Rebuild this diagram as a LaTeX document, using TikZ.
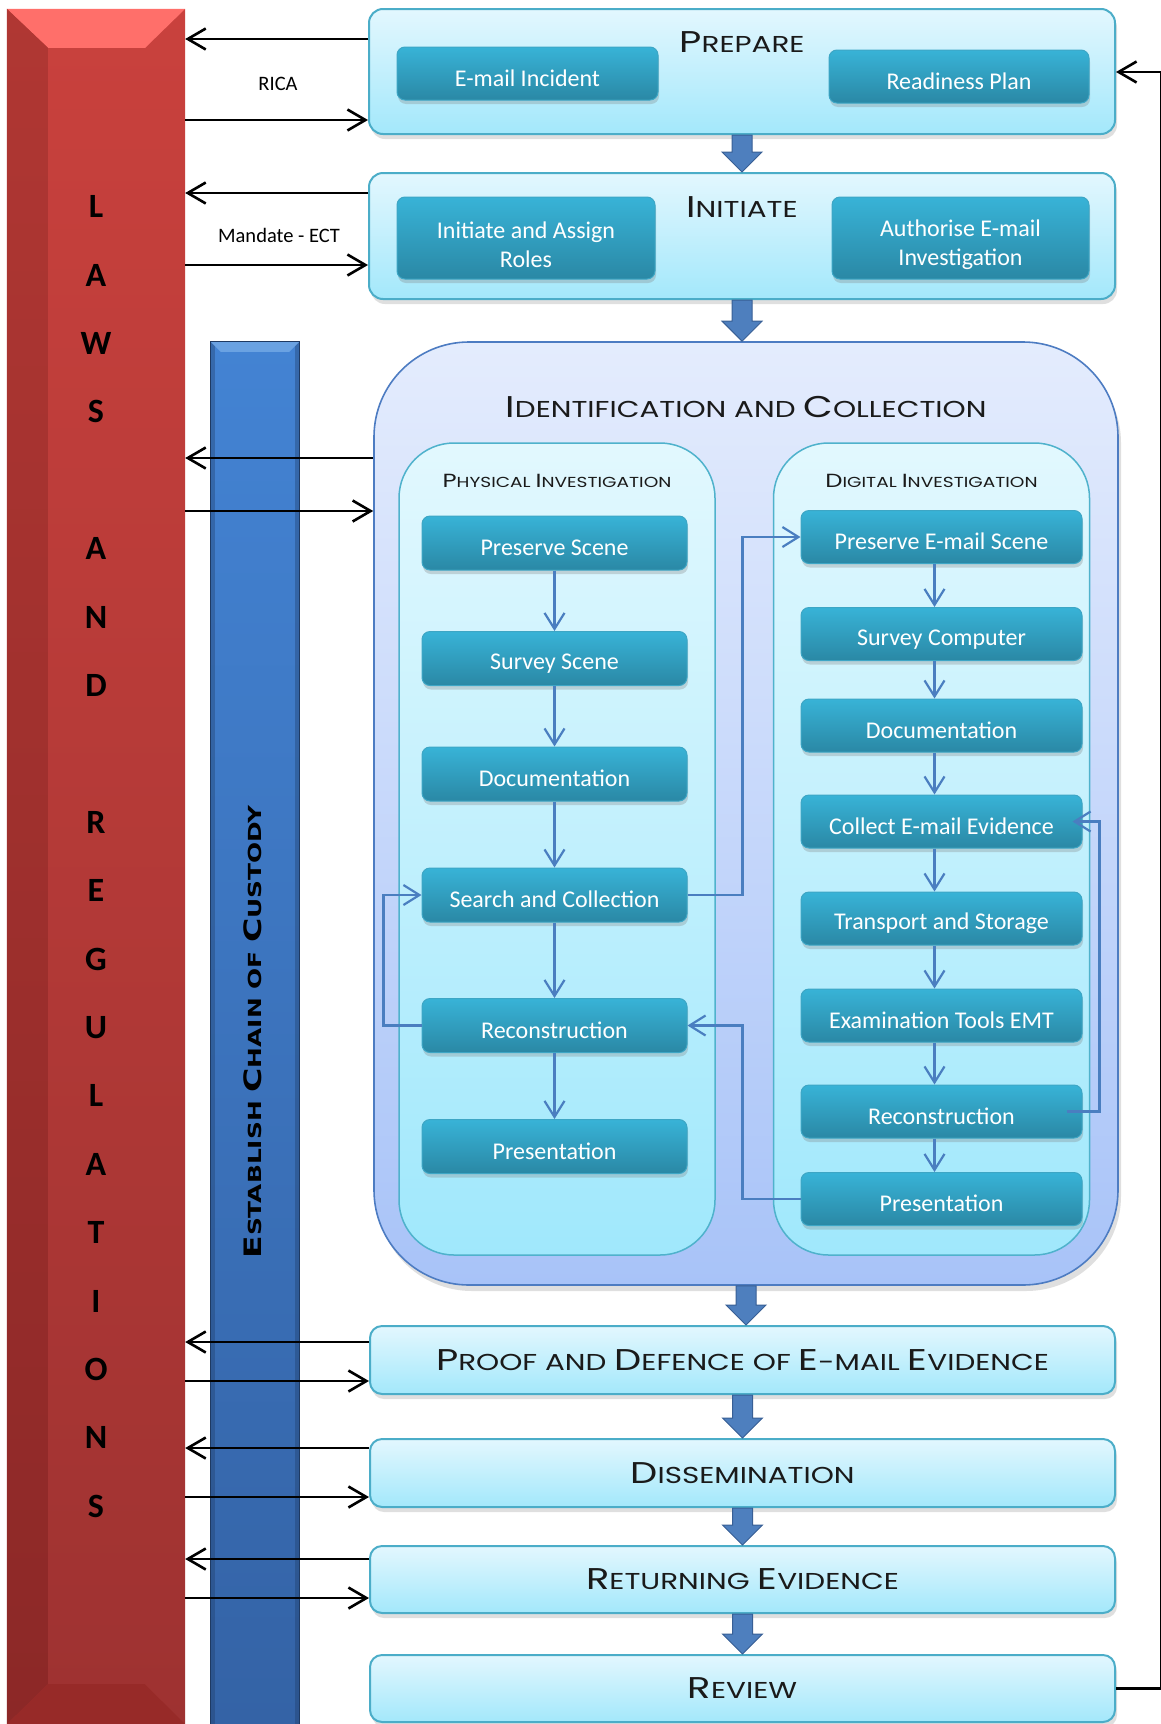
\documentclass[tikz,border=0pt]{standalone}
\usepackage{fontspec}
\setmainfont{Carlito}
\newfontfamily\titlefont[FakeStretch=1.28]{Poppins}
\newfontfamily\chainfont[FakeStretch=1.38]{DejaVu Sans}
\usetikzlibrary{arrows.meta,shadows,calc}

% colours
\definecolor{lawtop}{HTML}{C9413D}
\definecolor{lawbot}{HTML}{9E3231}
\definecolor{lawlight}{HTML}{FF6F6A}
\definecolor{lawdarktop}{HTML}{B03733}
\definecolor{lawdarkbot}{HTML}{8C2827}
\definecolor{lawbevel}{HTML}{972A28}
\definecolor{chaintop}{HTML}{4383D3}
\definecolor{chainbot}{HTML}{3463A6}
\definecolor{chainedge}{HTML}{1E3A63}
\definecolor{chainbevel}{HTML}{6AA2E2}
\definecolor{stagetop}{HTML}{E3F7FE}
\definecolor{stagebot}{HTML}{A3E8FB}
\definecolor{stageline}{HTML}{4BADC8}
\definecolor{btntop}{HTML}{38B3D7}
\definecolor{btnbot}{HTML}{2A88A5}
\definecolor{btnline}{HTML}{3DA6C5}
\definecolor{identtop}{HTML}{E4ECFD}
\definecolor{identbot}{HTML}{A8C3F8}
\definecolor{identline}{HTML}{4D7CC2}
\definecolor{innertop}{HTML}{E2F8FE}
\definecolor{innerbot}{HTML}{A0E8FC}
\definecolor{innerline}{HTML}{4FB2CC}
\definecolor{flowcol}{HTML}{4A7EC0}
\definecolor{blockfill}{HTML}{4E7FBE}
\definecolor{blockline}{HTML}{385F95}
\definecolor{titlecol}{HTML}{1A1A1A}

% fake small capitals: big initial, smaller capitals
\newcommand\capsA[2]{{\fontsize{30}{36}\selectfont #1}{\fontsize{23}{36}\selectfont #2}}
\newcommand\capsB[2]{{\fontsize{19}{23}\selectfont #1}{\fontsize{14.5}{23}\selectfont #2}}
\newcommand\capsC[2]{{\fontsize{24}{28}\selectfont #1}{\fontsize{18}{28}\selectfont #2}}

% block arrow from the bottom of one box to the top of the next
\newcommand\blockarrow[2]{%
  \filldraw[blockarr] let \p1=(#1.south), \p2=(#2.north) in
    (\x1-10pt,\y1) -- (\x1+10pt,\y1) -- (\x1+10pt,\y2+20pt) -- (\x1+20pt,\y2+20pt)
    -- (\x1,\y2) -- (\x1-20pt,\y2+20pt) -- (\x1-10pt,\y2+20pt) -- cycle;}

\tikzset{
  stage/.style={draw=stageline, line width=2pt, rounded corners=14pt,
    top color=stagetop, bottom color=stagebot, inner sep=0pt,
    drop shadow={shadow xshift=2pt, shadow yshift=-5pt, opacity=0.25},
    text=titlecol, font=\titlefont\fontsize{23}{36}\selectfont},
  btn/.style={draw=btnline, line width=1pt, rounded corners=8pt,
    top color=btntop, bottom color=btnbot, text=white,
    font=\fontsize{24}{29}\selectfont, align=center, inner sep=0pt,
    execute at begin node={\rule{0pt}{26pt}},
    drop shadow={shadow xshift=1pt, shadow yshift=-4pt, opacity=0.3}},
  pbtn/.style={btn, minimum width=265pt, minimum height=54pt},
  dbtn/.style={btn, minimum width=281pt, minimum height=53pt},
  lowstage/.style={stage, minimum width=745pt, minimum height=68pt, rounded corners=12pt},
  inner/.style={draw=innerline, line width=1.5pt, rounded corners=55pt,
    top color=innertop, bottom color=innerbot, inner sep=0pt,
    minimum width=316pt, minimum height=812pt},
  title/.style={text=titlecol, font=\titlefont\fontsize{23}{36}\selectfont, inner sep=0pt},
  subtitle/.style={text=titlecol, font=\titlefont\fontsize{14.5}{23}\selectfont, inner sep=0pt},
  flow/.style={draw=flowcol, line width=2.2pt,
    -{Straight Barb[length=16pt,width=20pt,line width=2.2pt]}},
  lawarr/.style={draw=black, line width=2.6pt,
    -{Straight Barb[length=18pt,width=21pt,line width=2.6pt]}},
  blockarr/.style={fill=blockfill, draw=blockline, line width=1pt, line join=miter},
  lawletter/.style={font=\bfseries\fontsize{34}{34}\selectfont, inner sep=0pt},
  lawlabel/.style={font=\fontsize{20.5}{24}\selectfont, inner sep=0pt},
}

\begin{document}
\begin{tikzpicture}[x=1pt,y=-1pt]
\useasboundingbox[fill=white] (0,0) rectangle (1161,1724);

% ---------- laws and regulations bar ----------
\node[minimum width=178pt, minimum height=1715pt, inner sep=0pt,
      top color=lawtop, bottom color=lawbot] (laws) at (96,866.5) {};
\fill[lawlight] (laws.north west) -- (laws.north east) -- ++(-40,39) -- ++(-97,0) -- cycle;
\shade[top color=lawdarktop, bottom color=lawdarkbot]
  (laws.north west) -- ++(41,39) -- ([xshift=41pt,yshift=40pt]laws.south west)
  -- (laws.south west) -- cycle;
\fill[lawbevel] (laws.south west) -- ++(41,-40) -- ++(97,0) -- (laws.south east) -- cycle;
\foreach \ch/\i in {L/0,A/1,W/2,S/3,A/5,N/6,D/7,R/9,E/10,G/11,U/12,L/13,A/14,T/15,I/16,O/17,N/18,S/19}
  \node[lawletter] (law\i) at (96,{206.7+68.4*\i}) {\ch};

% ---------- chain of custody bar ----------
\node[minimum width=88pt, minimum height=1382pt, inner sep=0pt,
      top color=chaintop, bottom color=chainbot] (chain) at (255,1033) {};
\fill[chainedge, opacity=0.35] (chain.north west) rectangle ([xshift=4pt]chain.south west);
\fill[chainedge, opacity=0.35] ([xshift=-4pt]chain.north east) rectangle (chain.south east);
\fill[chainbevel] (chain.north west) -- (chain.north east) -- ++(-10,10) -- ([xshift=10pt,yshift=-10pt]chain.north west) -- cycle;
\draw[chainedge, line width=0.8pt] (chain.south west) -- (chain.north west) -- (chain.north east) -- (chain.south east);
\node[rotate=90, text=black, font=\chainfont\bfseries\fontsize{18}{28}\selectfont, inner sep=0pt] (chaintext) at (253,1032)
  {\capsC{E}{STABLISH} \capsC{C}{HAIN OF} \capsC{C}{USTODY}};

% ---------- prepare and initiate ----------
\node[stage, minimum width=746pt, minimum height=125pt] (prep) at (742,71.5) {};
\node[title] (preptitle) at (742,42) {\capsA{P}{REPARE}};
\node[btn, minimum width=261pt, minimum height=53pt] (incident) at (527.5,73.5) {E-mail Incident};
\node[btn, minimum width=260pt, minimum height=53pt] (readiness) at (959,76.5) {Readiness Plan};

\node[stage, minimum width=746pt, minimum height=126pt] (init) at (742,236) {};
\node[title] (inittitle) at (742,207) {\capsA{I}{NITIATE}};
\node[btn, minimum width=258pt, minimum height=82pt] (assign) at (526,238)
  {\rule{0pt}{30.5pt}Initiate and Assign\\Roles};
\node[btn, minimum width=257pt, minimum height=82pt] (authorise) at (960.5,238)
  {\rule{0pt}{30.5pt}Authorise E-mail\\Investigation};

% ---------- identification and collection ----------
\node[draw=identline, line width=1.6pt, rounded corners=95pt, inner sep=0pt,
      top color=identtop, bottom color=identbot,
      drop shadow={shadow xshift=3pt, shadow yshift=-6pt, opacity=0.25},
      minimum width=744pt, minimum height=943pt] (ident) at (746,813.5) {};
\node[title] (identtitle) at (746,407) {\capsA{I}{DENTIFICATION AND} \capsA{C}{OLLECTION}};

\node[inner] (phys) at (557,849) {};
\node[subtitle] (phystitle) at (557,481) {\capsB{P}{HYSICAL} \capsB{I}{NVESTIGATION}};
\node[inner] (dig) at (931.5,849) {};
\node[subtitle] (digtitle) at (931.5,481) {\capsB{D}{IGITAL} \capsB{I}{NVESTIGATION}};

% physical investigation steps
\node[pbtn] (ps1) at (554.5,543) {Preserve Scene};
\node[pbtn] (ps2) at (554.5,658.5) {Survey Scene};
\node[pbtn] (ps3) at (554.5,774) {Documentation};
\node[pbtn] (ps4) at (554.5,895) {Search and Collection};
\node[pbtn] (ps5) at (554.5,1025.5) {Reconstruction};
\node[pbtn] (ps6) at (554.5,1146.5) {Presentation};

% digital investigation steps
\node[dbtn] (ds1) at (941.5,537) {Preserve E-mail Scene};
\node[dbtn] (ds2) at (941.5,634) {Survey Computer};
\node[dbtn] (ds3) at (941.5,725.5) {Documentation};
\node[dbtn] (ds4) at (941.5,821.5) {Collect E-mail Evidence};
\node[dbtn] (ds5) at (941.5,918.5) {Transport and Storage};
\node[dbtn] (ds6) at (941.5,1015.5) {Examination Tools EMT};
\node[dbtn] (ds7) at (941.5,1111.5) {Reconstruction};
\node[dbtn] (ds8) at (941.5,1199) {Presentation};

\foreach \a/\b in {ps1/ps2,ps2/ps3,ps3/ps4,ps4/ps5,ps5/ps6}
  \draw[flow] (\a.south) -- (\b.north);
\foreach \a/\b in {ds1/ds2,ds2/ds3,ds3/ds4,ds4/ds5,ds5/ds6,ds6/ds7,ds7/ds8}
  \draw[flow] ([xshift=-7pt]\a.south) -- ([xshift=-7pt]\b.north);

\draw[flow] (ps5.west) -- ++(-38,0) |- (ps4.west);
\draw[flow] (ps4.east) -| ([xshift=-58pt]ds1.west) -- (ds1.west);
\draw[flow] (ds8.west) -- ([xshift=-58pt]ds8.west) |- (ps5.east);
\draw[flow] ([xshift=-16pt]ds7.east) -- ([xshift=17pt]ds7.east) |- ([xshift=-10pt]ds4.east);

% ---------- later stages ----------
\node[lowstage] (proof) at (742.5,1360)
  {\capsA{P}{ROOF AND} \capsA{D}{EFENCE OF} \capsA{E}{-MAIL} \capsA{E}{VIDENCE}};
\node[lowstage] (diss) at (742.5,1473) {\capsA{D}{ISSEMINATION}};
\node[lowstage, minimum height=67pt] (ret) at (742.5,1579.5) {\capsA{R}{ETURNING} \capsA{E}{VIDENCE}};
\node[lowstage, minimum height=67pt] (rev) at (742.5,1688.5) {\capsA{R}{EVIEW}};

% ---------- block arrows between stages ----------
\blockarrow{prep}{init}
\blockarrow{init}{ident}
\blockarrow{ident}{proof}
\blockarrow{proof}{diss}
\blockarrow{diss}{ret}
\blockarrow{ret}{rev}

% ---------- links with laws and regulations ----------
\draw[lawarr] (prep.west |- 0,39) -- (laws.east |- 0,39);
\draw[lawarr] (laws.east |- 0,120) -- (prep.west |- 0,120);
\node[lawlabel] (rica) at (278,84) {RICA};
\draw[lawarr] (init.west |- 0,193) -- (laws.east |- 0,193);
\draw[lawarr] (laws.east |- 0,265) -- (init.west |- 0,265);
\node[lawlabel] (mandate) at (279,235) {Mandate - ECT};
\draw[lawarr] (ident.west |- 0,458) -- (laws.east |- 0,458);
\draw[lawarr] (laws.east |- 0,511) -- (ident.west |- 0,511);
\draw[lawarr] (proof.west |- 0,1342) -- (laws.east |- 0,1342);
\draw[lawarr] (laws.east |- 0,1381) -- (proof.west |- 0,1381);
\draw[lawarr] (diss.west |- 0,1448) -- (laws.east |- 0,1448);
\draw[lawarr] (laws.east |- 0,1497) -- (diss.west |- 0,1497);
\draw[lawarr] (ret.west |- 0,1559) -- (laws.east |- 0,1559);
\draw[lawarr] (laws.east |- 0,1598) -- (ret.west |- 0,1598);

% review feeds back into preparation
\coordinate (loopbot) at (1161.5,1688.5);
\coordinate (looptop) at (1161.5,72);
\draw[lawarr] (rev.east) -- (loopbot) -- (looptop) -- (prep.east |- looptop);
\end{tikzpicture}
\end{document}
